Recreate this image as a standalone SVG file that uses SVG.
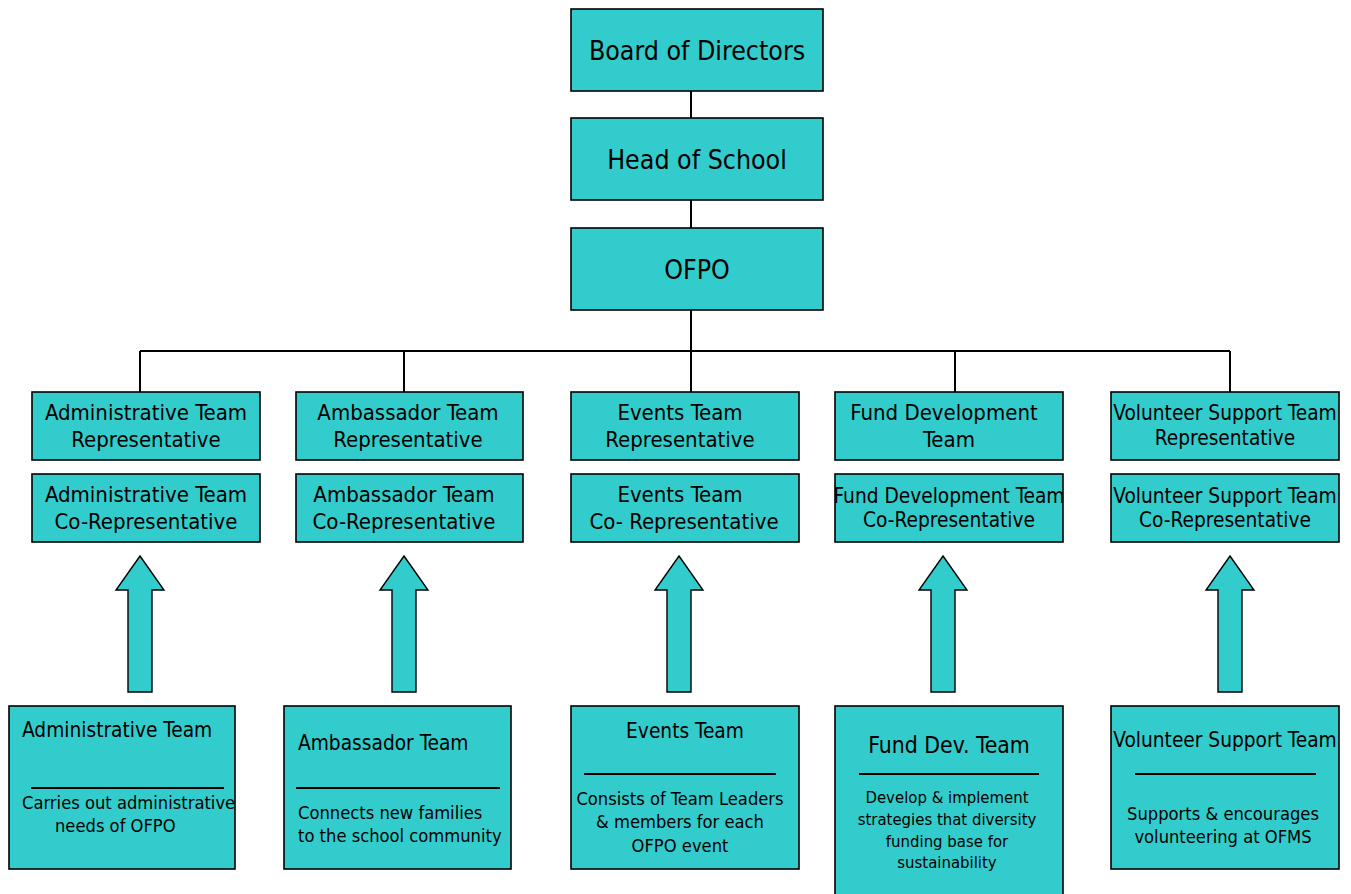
<svg xmlns="http://www.w3.org/2000/svg" width="1351" height="894" viewBox="0 0 1351 894">
<style>
.b{fill:#33CCCC;stroke:#000;stroke-width:1.6}
.c{fill:none;stroke:#000;stroke-width:2}
.ar{fill:#33CCCC;stroke:#000;stroke-width:1.4}
text{font-family:"DejaVu Sans Condensed","DejaVu Sans",sans-serif;fill:#000}
.t1{font-size:26.5px;text-anchor:middle}
.t2{font-size:22px;text-anchor:middle}
.t2s{font-size:20.7px;text-anchor:middle}
.t3{font-size:20.7px}
.t4{font-size:18.2px}
.t5{font-size:16.6px}
.m{text-anchor:middle}
</style>
<g id="connectors">
<path class="c" d="M691 91V118M691 200V228M691 310V351M140 351H1230M140 351V392M404 351V392M691 351V392M955 351V392M1230 351V392"/>
<g id="arrows">
<path class="ar" d="M140 556L164 590H152V692H128V590H116Z"/>
<path class="ar" d="M404 556L428 590H416V692H392V590H380Z"/>
<path class="ar" d="M679 556L703 590H691V692H667V590H655Z"/>
<path class="ar" d="M943 556L967 590H955V692H931V590H919Z"/>
<path class="ar" d="M1230 556L1254 590H1242V692H1218V590H1206Z"/>
</g>
</g>
<g id="board"><rect class="b" x="571" y="9" width="252" height="82"/><text class="t1" x="697" y="60">Board of Directors</text></g>
<g id="head"><rect class="b" x="571" y="118" width="252" height="82"/><text class="t1" x="697" y="169">Head of School</text></g>
<g id="ofpo"><rect class="b" x="571" y="228" width="252" height="82"/><text class="t1" x="697" y="279">OFPO</text></g>

<g id="admin-rep"><rect class="b" x="32" y="392" width="228" height="68"/><text class="t2" x="146" y="420">Administrative  Team</text><text class="t2" x="146" y="447">Representative</text></g>
<g id="amb-rep"><rect class="b" x="296" y="392" width="227" height="68"/><text class="t2" x="408" y="420">Ambassador Team</text><text class="t2" x="408" y="447">Representative</text></g>
<g id="events-rep"><rect class="b" x="571" y="392" width="228" height="68"/><text class="t2" x="680" y="420">Events Team</text><text class="t2" x="680" y="447">Representative</text></g>
<g id="fund-rep"><rect class="b" x="835" y="392" width="228" height="68"/><text class="t2" x="944" y="420">Fund Development</text><text class="t2" x="949" y="447">Team</text></g>
<g id="vol-rep"><rect class="b" x="1111" y="392" width="228" height="68"/><text class="t2s" x="1225" y="420">Volunteer Support Team</text><text class="t2s" x="1225" y="445">Representative</text></g>

<g id="admin-co"><rect class="b" x="32" y="474" width="228" height="68"/><text class="t2" x="146" y="502">Administrative  Team</text><text class="t2" x="146" y="529">Co-Representative</text></g>
<g id="amb-co"><rect class="b" x="296" y="474" width="227" height="68"/><text class="t2" x="404" y="502">Ambassador Team</text><text class="t2" x="404" y="529">Co-Representative</text></g>
<g id="events-co"><rect class="b" x="571" y="474" width="228" height="68"/><text class="t2" x="680" y="502">Events Team</text><text class="t2" x="684" y="529">Co- Representative</text></g>
<g id="fund-co"><rect class="b" x="835" y="474" width="228" height="68"/><text class="t2s" x="949" y="503">Fund Development Team</text><text class="t2s" x="949" y="527">Co-Representative</text></g>
<g id="vol-co"><rect class="b" x="1111" y="474" width="228" height="68"/><text class="t2s" x="1225" y="503">Volunteer Support Team</text><text class="t2s" x="1225" y="527">Co-Representative</text></g>

<g id="admin-team"><rect class="b" x="9" y="706" width="226" height="163"/><text class="t3" x="22" y="737">Administrative Team</text><path class="c" d="M31 788H224"/><text class="t4" x="22" y="809">Carries out administrative</text><text class="t4" x="55" y="832">needs of OFPO</text></g>
<g id="amb-team"><rect class="b" x="284" y="706" width="227" height="163"/><text class="t3" x="298" y="750">Ambassador Team</text><path class="c" d="M296 788H500"/><text class="t4" x="298" y="819">Connects new families</text><text class="t4" x="298" y="842">to the school community</text></g>
<g id="events-team"><rect class="b" x="571" y="706" width="228" height="163"/><text class="t3 m" x="685" y="738">Events Team</text><path class="c" d="M584 774H776"/><text class="t4 m" x="680" y="805">Consists of Team Leaders</text><text class="t4 m" x="680" y="828">&amp; members for each</text><text class="t4 m" x="680" y="852">OFPO event</text></g>
<g id="fund-team"><rect class="b" x="835" y="706" width="228" height="200"/><text class="m" style="font-size:22.8px" x="949" y="753">Fund Dev. Team</text><path class="c" d="M859 774H1039"/><text class="t5 m" x="947" y="803">Develop &amp; implement</text><text class="t5 m" x="947" y="825">strategies that diversity</text><text class="t5 m" x="947" y="847">funding base for</text><text class="t5 m" x="947" y="868">sustainability</text></g>
<g id="vol-team"><rect class="b" x="1111" y="706" width="228" height="163"/><text class="t3 m" x="1225" y="747">Volunteer Support Team</text><path class="c" d="M1135 774H1316"/><text class="t4 m" x="1223" y="820">Supports &amp; encourages</text><text class="t4 m" x="1223" y="843">volunteering at OFMS</text></g>
</svg>
